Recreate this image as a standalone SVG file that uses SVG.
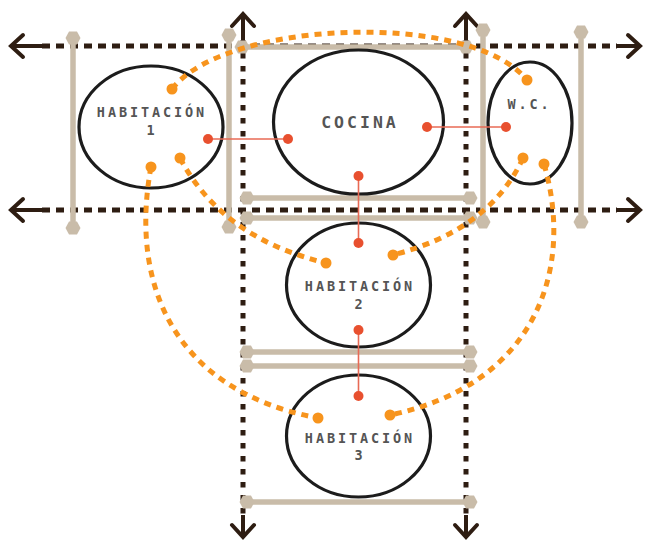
<svg xmlns="http://www.w3.org/2000/svg" width="645" height="542" viewBox="0 0 645 542">
  <style>
    .hdot { stroke: #2e1d12; stroke-width: 5; stroke-dasharray: 8 6; fill: none; }
    .vdot { stroke: #2e1d12; stroke-width: 5; stroke-dasharray: 5.5 7.5; fill: none; }
    .shaft { stroke: #2e1d12; stroke-width: 4; fill: none; marker-end: url(#chev); }
    .bar { stroke: #c9bca9; stroke-width: 5.5; fill: none; marker-start: url(#hex); marker-end: url(#hex); }
    .room { fill: none; stroke: #1c1c1c; stroke-width: 3.2; }
    .lbl { font-family: "DejaVu Sans Mono", "Liberation Mono", monospace; font-weight: bold; fill: #555555; text-anchor: middle; font-size: 13.5px; letter-spacing: 2.9px; }
    .orange { fill: none; stroke: #f7941d; stroke-width: 5; stroke-dasharray: 7 6; }
    .odot { fill: #f7941d; }
    .red { stroke: #e86a55; stroke-width: 1.6; fill: none; }
    .rdot { fill: #e8502f; }
  </style>
  <defs>
    <marker id="chev" markerUnits="userSpaceOnUse" viewBox="-16 -14 20 28" markerWidth="20" markerHeight="28" refX="0" refY="0" orient="auto" overflow="visible">
      <path d="M-12,-11 L0,0 L-12,11" fill="none" stroke="#2e1d12" stroke-width="4" stroke-linecap="round"/>
    </marker>
    <marker id="hex" markerUnits="userSpaceOnUse" viewBox="-9 -9 18 18" markerWidth="18" markerHeight="18" refX="0" refY="0" overflow="visible">
      <polygon points="-7.5,0 -4,-6.5 4,-6.5 7.5,0 4,6.5 -4,6.5" fill="#c9bca9"/>
    </marker>
  </defs>
  <rect width="645" height="542" fill="#ffffff"/>

  <g id="axes">
    <line class="hdot" x1="42" y1="46" x2="617" y2="46"/>
    <line class="hdot" x1="42" y1="210" x2="617" y2="210"/>
    <line class="vdot" x1="243" y1="40" x2="243" y2="515"/>
    <line class="vdot" x1="466" y1="40" x2="466" y2="515"/>
    <line class="shaft" x1="42" y1="46" x2="11" y2="46"/>
    <line class="shaft" x1="617" y1="46" x2="640" y2="46"/>
    <line class="shaft" x1="42" y1="210" x2="11" y2="210"/>
    <line class="shaft" x1="617" y1="210" x2="640" y2="210"/>
    <line class="shaft" x1="243" y1="40" x2="243" y2="14"/>
    <line class="shaft" x1="466" y1="40" x2="466" y2="14"/>
    <line class="shaft" x1="243" y1="515" x2="243" y2="537"/>
    <line class="shaft" x1="466" y1="515" x2="466" y2="537"/>
  </g>

  <g id="bars">
    <line class="bar" x1="73" y1="38" x2="73" y2="228"/>
    <line class="bar" x1="229" y1="35" x2="229" y2="227"/>
    <line class="bar" x1="483" y1="30" x2="483" y2="222"/>
    <line class="bar" x1="581" y1="32" x2="581" y2="222"/>
    <line class="bar" x1="242" y1="47" x2="466" y2="47"/>
    <line class="bar" x1="247" y1="198" x2="470" y2="198"/>
    <line class="bar" x1="247" y1="218" x2="470" y2="218"/>
    <line class="bar" x1="247" y1="352" x2="470" y2="352"/>
    <line class="bar" x1="247" y1="366" x2="470" y2="366"/>
    <line class="bar" x1="247" y1="502" x2="470" y2="502"/>
  </g>

  <g id="hab1">
    <ellipse class="room" cx="151" cy="127" rx="72" ry="61"/>
    <text class="lbl" x="152" y="117">HABITACIÓN</text>
    <text class="lbl" x="152" y="135">1</text>
  </g>
  <g id="cocina">
    <ellipse class="room" cx="358.5" cy="122" rx="85" ry="72"/>
    <text class="lbl" x="360" y="128" style="font-size:16.5px;letter-spacing:3px">COCINA</text>
  </g>
  <g id="wc">
    <ellipse class="room" cx="530" cy="123" rx="42" ry="61"/>
    <text class="lbl" x="529.5" y="109" style="font-size:13.5px">W.C.</text>
  </g>
  <g id="hab2">
    <ellipse class="room" cx="358.5" cy="285" rx="72" ry="62"/>
    <text class="lbl" x="360" y="291">HABITACIÓN</text>
    <text class="lbl" x="360" y="309">2</text>
  </g>
  <g id="hab3">
    <ellipse class="room" cx="358.5" cy="436" rx="72" ry="61"/>
    <text class="lbl" x="360" y="443">HABITACIÓN</text>
    <text class="lbl" x="360" y="460">3</text>
  </g>

  <g id="connectors">
    <path class="orange" d="M172,89 C225,20 470,10 527,80"/>
    <path class="orange" d="M180,158 Q222,238 326,263"/>
    <path class="orange" d="M523,158 Q490,230 393,255"/>
    <path class="orange" d="M151,167 C130,280 170,390 318,418"/>
    <path class="orange" d="M544,164 C575,270 535,385 390,415"/>
    <circle class="odot" cx="172" cy="89" r="5.5"/>
    <circle class="odot" cx="180" cy="158" r="5.5"/>
    <circle class="odot" cx="151" cy="167" r="5.5"/>
    <circle class="odot" cx="527" cy="80" r="5.5"/>
    <circle class="odot" cx="523" cy="158" r="5.5"/>
    <circle class="odot" cx="544" cy="164" r="5.5"/>
    <circle class="odot" cx="326" cy="263" r="5.5"/>
    <circle class="odot" cx="393" cy="255" r="5.5"/>
    <circle class="odot" cx="318" cy="418" r="5.5"/>
    <circle class="odot" cx="390" cy="415" r="5.5"/>

    <line class="red" x1="208" y1="139" x2="288" y2="139"/>
    <line class="red" x1="427" y1="127" x2="506" y2="127"/>
    <line class="red" x1="358.5" y1="176" x2="358.5" y2="243"/>
    <line class="red" x1="358.5" y1="330" x2="358.5" y2="396"/>
    <circle class="rdot" cx="208" cy="139" r="5"/>
    <circle class="rdot" cx="288" cy="139" r="5"/>
    <circle class="rdot" cx="427" cy="127" r="5"/>
    <circle class="rdot" cx="506" cy="127" r="5"/>
    <circle class="rdot" cx="358.5" cy="176" r="5"/>
    <circle class="rdot" cx="358.5" cy="243" r="5"/>
    <circle class="rdot" cx="358.5" cy="330" r="5"/>
    <circle class="rdot" cx="358.5" cy="396" r="5"/>
  </g>
</svg>
